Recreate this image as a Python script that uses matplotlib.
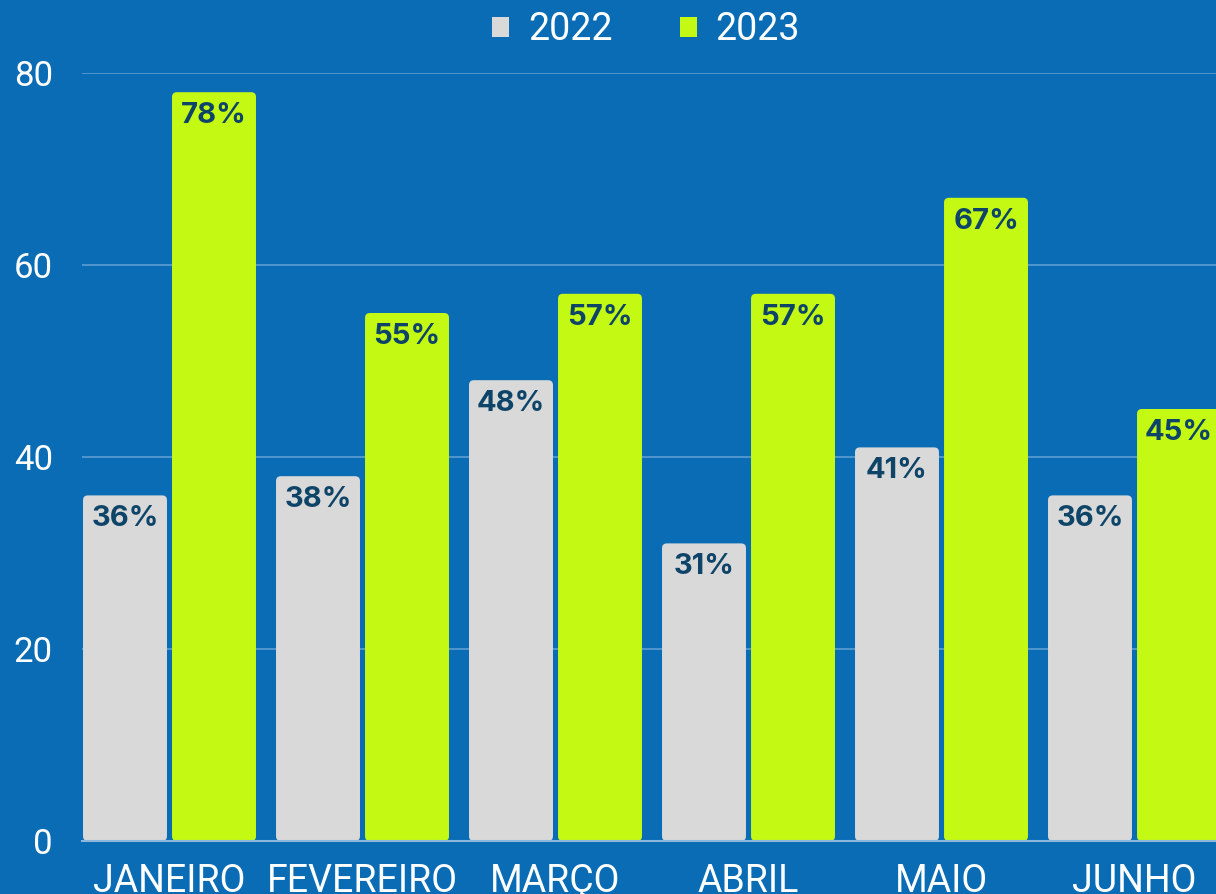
import numpy as np
import matplotlib.pyplot as plt
from matplotlib.patches import FancyBboxPatch, Patch

meses = ['JANEIRO', 'FEVEREIRO', 'MARÇO', 'ABRIL', 'MAIO', 'JUNHO']
v2022 = [36, 38, 48, 31, 41, 36]
v2023 = [78, 55, 57, 57, 67, 45]

fundo = '#0A6CB5'
cinza = '#D9D9D9'
lima = '#C4F914'
azul_escuro = '#0D4468'

plt.rcParams['font.family'] = ['Roboto', 'DejaVu Sans']

fig = plt.figure(figsize=(12.16, 8.94), dpi=100, facecolor=fundo)
# eixo passa da borda direita (a ultima barra fica cortada)
ax = fig.add_axes([82/1216, 53/894, 1149/1216, 768/894])
ax.set_facecolor(fundo)

x = np.arange(len(meses))
w = 0.435
off = 0.2306

def barras(xs, vals, cor):
    for xi, v in zip(xs, vals):
        p = FancyBboxPatch((xi - w/2, 0), w, v,
                           boxstyle='round,pad=0,rounding_size=0.025',
                           mutation_aspect=80/768*1149/5.9534,
                           fc=cor, ec='none', zorder=3)
        ax.add_patch(p)
        ax.annotate(f'{v}%', (xi, v), xytext=(0, -7), textcoords='offset points',
                    ha='center', va='top', fontsize=21, fontweight='bold',
                    family=['Inter', 'DejaVu Sans'], color=azul_escuro, zorder=4)

barras(x - off, v2022, cinza)
barras(x + off, v2023, lima)

ax.set_xlim(-0.4534, 5.5)
ax.set_ylim(0, 80)
ax.set_yticks([0, 20, 40, 60, 80])
ax.set_xticks(x)
ax.set_xticklabels(meses)
ax.tick_params(axis='both', length=0, colors='white')
ax.tick_params(axis='y', pad=21, labelsize=25)
ax.tick_params(axis='x', pad=16, labelsize=27)
ax.grid(axis='y', color='#5C9DD3', lw=1.2, zorder=0)
for s in ['top', 'right', 'left']:
    ax.spines[s].set_visible(False)
ax.spines['bottom'].set_color('#8DB8DD')
ax.spines['bottom'].set_linewidth(1.5)
ax.spines['bottom'].set_zorder(5)

handles = [Patch(fc=cinza, label='2022'), Patch(fc=lima, label='2023')]
fig.legend(handles=handles, loc='upper center', bbox_to_anchor=(646/1216, 1.025), ncol=2,
           frameon=False, fontsize=27, labelcolor='white',
           handlelength=0.45, handleheight=0.45, columnspacing=1.8, handletextpad=0.5)

fig.savefig('out.png', dpi=100, facecolor=fundo)
